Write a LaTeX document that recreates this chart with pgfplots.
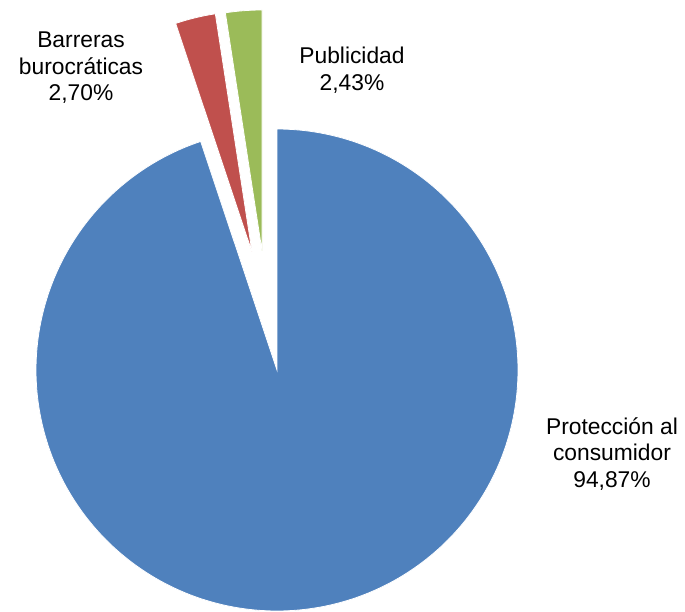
\documentclass[border=0pt]{standalone}
\usepackage{fontspec}
\setmainfont{Liberation Sans}
\usepackage{pgfplots}
\pgfplotsset{compat=1.18}
\definecolor{cblue}{HTML}{4F81BD}
\definecolor{cred}{HTML}{C0504D}
\definecolor{cgreen}{HTML}{9BBB59}
% slice shares (percent)
\def\pBlue{94.87}
\def\pRed{2.70}
\def\pGreen{2.43}
\begin{document}
\begin{tikzpicture}
\useasboundingbox (0,0) rectangle (685pt,612pt);
\begin{axis}[hide axis, scale only axis, width=685pt, height=612pt,
  xmin=0, xmax=685, ymin=0, ymax=612, y dir=reverse, clip=false,
  axis line style={draw=none}]
% Protección al consumidor
\addplot[fill=cblue, draw=white, line width=0.8pt, domain={90-3.6*\pBlue}:90, samples=300, variable=\t]
  ({277+241*cos(t)}, {370-241*sin(t)}) -- (axis cs:277,370) -- cycle;
% Barreras burocráticas (exploded)
\addplot[fill=cred, draw=white, line width=0.8pt, domain={90+3.6*\pGreen}:{90+3.6*\pGreen+3.6*\pRed}, samples=40, variable=\t]
  ({252+241*cos(t)}, {252-241*sin(t)}) -- (axis cs:252,252) -- cycle;
% Publicidad (exploded)
\addplot[fill=cgreen, draw=white, line width=0.8pt, domain=90:{90+3.6*\pGreen}, samples=40, variable=\t]
  ({262+241*cos(t)}, {251-241*sin(t)}) -- (axis cs:262,251) -- cycle;
\node[align=center, font=\fontsize{22.8}{26.5}\selectfont, inner sep=0pt] at (axis cs:81,68) {Barreras\\burocráticas\\2,70\%};
\node[align=center, font=\fontsize{22.8}{26.5}\selectfont, inner sep=0pt] at (axis cs:352,70) {Publicidad\\2,43\%};
\node[align=center, font=\fontsize{22.8}{26.5}\selectfont, inner sep=0pt] at (axis cs:612,454) {Protección al\\consumidor\\94,87\%};
\end{axis}
\end{tikzpicture}
\end{document}
